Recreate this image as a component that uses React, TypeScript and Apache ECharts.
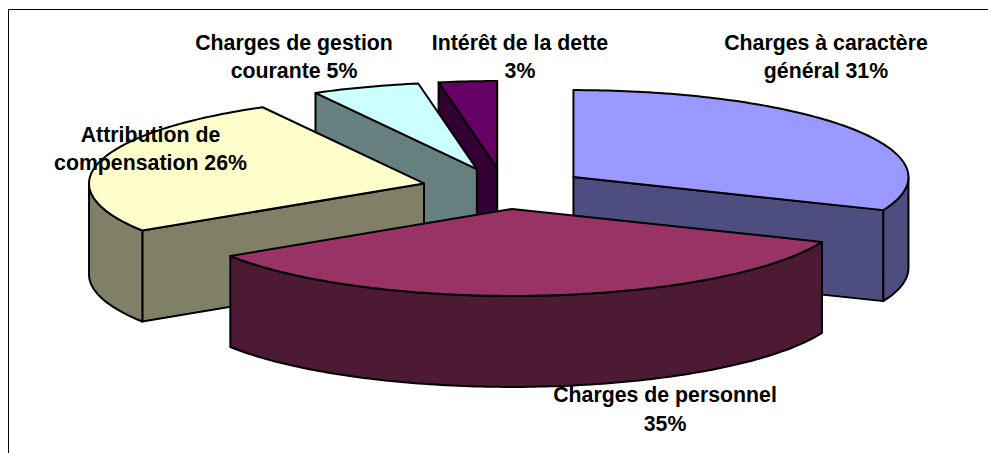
import React, { useEffect, useRef } from "react";
import * as echarts from "echarts";

const categories = [
  "Charges à caractère\ngénéral 31%",
  "Charges de personnel\n35%",
  "Attribution de\ncompensation 26%",
  "Charges de gestion\ncourante 5%",
  "Intérêt de la dette\n3%",
];
const values = [31.2, 34.7, 26.1, 5.2, 2.8];
const topColors = ["#9999FF", "#993366", "#FFFFCC", "#CCFFFF", "#660066"];
const sideColors = ["#4D4D80", "#4D1A33", "#808066", "#668080", "#330033"];
const drawOrder = [4, 3, 2, 0, 1];
const labelCenters = [
  [826, 57],
  [665, 409.5],
  [150.5, 149],
  [294, 57],
  [520, 57],
];

const RX = 335;
const RY = 87;
const DEPTH = 91;
const CX = 504.5;
const CY = 188.5;
const EXPLODE_X = 83;
const EXPLODE_Y = 20.5;
const DEG = Math.PI / 180;

const total = values.reduce((a, b) => a + b, 0);
const starts: number[] = [];
values.reduce((acc, v, i) => {
  starts[i] = (acc / total) * 360;
  return acc + v;
}, 0);

function rim(cx: number, cy: number, t: number, dy = 0): [number, number] {
  return [cx + RX * Math.sin(t * DEG), cy - RY * Math.cos(t * DEG) + dy];
}
function arc(cx: number, cy: number, from: number, to: number, dy = 0) {
  const pts: [number, number][] = [];
  const n = Math.max(2, Math.ceil(Math.abs(to - from)));
  for (let i = 0; i <= n; i++) pts.push(rim(cx, cy, from + ((to - from) * i) / n, dy));
  return pts;
}
function toPath(pts: [number, number][]) {
  return pts.map((p, i) => (i ? "L" : "M") + p[0].toFixed(2) + " " + p[1].toFixed(2)).join(" ") + " Z";
}

function renderSlice(_params: any, api: any) {
  const i = api.value(0) as number;
  const t0 = starts[i];
  const t1 = t0 + (values[i] / total) * 360;
  const mid = ((t0 + t1) / 2) * DEG;
  const cx = CX + EXPLODE_X * Math.sin(mid);
  const cy = CY - EXPLODE_Y * Math.cos(mid);
  const apex: [number, number] = [cx, cy];
  const apexLow: [number, number] = [cx, cy + DEPTH];
  const lineStyle = { stroke: "#000", lineWidth: 2, lineJoin: "round" };
  const shape = (pts: [number, number][], fill: string) => ({
    type: "path",
    shape: { pathData: toPath(pts) },
    style: { ...lineStyle, fill },
  });
  const children: any[] = [];
  const side = sideColors[i];
  if (Math.sin(t0 * DEG) < -1e-6) {
    children.push(shape([apex, rim(cx, cy, t0), rim(cx, cy, t0, DEPTH), apexLow], side));
  }
  if (Math.sin(t1 * DEG) > 1e-6) {
    children.push(shape([apex, rim(cx, cy, t1), rim(cx, cy, t1, DEPTH), apexLow], side));
  }
  const a = Math.max(t0, 90);
  const b = Math.min(t1, 270);
  if (b > a) {
    children.push(shape([...arc(cx, cy, a, b), ...arc(cx, cy, b, a, DEPTH)], side));
  }
  children.push(shape([apex, ...arc(cx, cy, t0, t1)], topColors[i]));
  return { type: "group", children };
}

export default function App() {
  const ref = useRef<HTMLDivElement>(null);
  useEffect(() => {
    document.body.style.margin = "0";
    const chart = echarts.init(ref.current!, null, { renderer: "svg" });
    chart.setOption({
      animation: false,
      backgroundColor: "#fff",
      series: [
        {
          type: "custom",
          coordinateSystem: "none",
          silent: true,
          renderItem: renderSlice,
          data: drawOrder.map((i) => ({ name: categories[i], value: [i, values[i]] })),
        },
      ],
      graphic: {
        elements: [
          {
            type: "polyline",
            z: 1,
            shape: { points: [[8.5, 453], [8.5, 9.5], [988, 9.5]] },
            style: { stroke: "#000", lineWidth: 1, fill: "none" },
          },
          ...categories.map((text, i) => ({
            type: "text",
            z: 100,
            x: labelCenters[i][0],
            y: labelCenters[i][1],
            style: {
              text,
              fill: "#000",
              font: 'bold 21.3px "Liberation Sans", Arial, sans-serif',
              lineHeight: 28.5,
              align: "center",
              verticalAlign: "middle",
            },
          })),
        ],
      },
    });
    return () => chart.dispose();
  }, []);
  return <div ref={ref} style={{ position: "absolute", left: 0, top: 0, width: 988, height: 453 }} />;
}
